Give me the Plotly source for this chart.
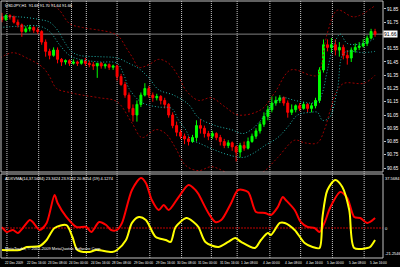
import plotly.graph_objects as go

title_text = "USDJPY,H1  91.68 91.70 91.64 91.66"
osc_title = "ADXVMA(14,37.5684) 23.3424 23.9142 20.8054 (19) 4.1274"
copyright_text = "MetaTrader, \u00a9 2001-2009 MetaQuotes Software Corp."

bar_open = [91.79, 91.77, 91.80, 91.79, 91.75, 91.73, 91.68, 91.70, 91.71, 91.69,
            91.68, 91.60, 91.53, 91.50, 91.54, 91.47, 91.45, 91.46, 91.44, 91.45,
            91.44, 91.46, 91.44, 91.43, 91.42, 91.44, 91.42, 91.43, 91.41, 91.42,
            91.34, 91.28, 91.20, 91.10, 91.05, 91.13, 91.20, 91.25, 91.20, 91.18,
            91.19, 91.16, 91.13, 91.05, 90.97, 90.92, 90.89, 90.87, 90.85, 90.88,
            90.97, 90.95, 90.91, 90.89, 90.91, 90.88, 90.85, 90.82, 90.84, 90.81,
            90.77, 90.82, 90.80, 90.85, 90.89, 90.93, 90.98, 91.04, 91.09, 91.14,
            91.16, 91.18, 91.14, 91.07, 91.09, 91.12, 91.10, 91.13, 91.10, 91.12,
            91.16, 91.39, 91.58, 91.56, 91.58, 91.54, 91.56, 91.50, 91.48, 91.54,
            91.56, 91.57, 91.59, 91.63, 91.68]
bar_high = [91.82, 91.81, 91.81, 91.80, 91.77, 91.74, 91.72, 91.73, 91.72, 91.71,
            91.69, 91.62, 91.55, 91.56, 91.56, 91.48, 91.47, 91.47, 91.47, 91.46,
            91.47, 91.48, 91.46, 91.45, 91.44, 91.45, 91.44, 91.44, 91.43, 91.43,
            91.36, 91.30, 91.22, 91.13, 91.16, 91.22, 91.29, 91.27, 91.22, 91.21,
            91.20, 91.18, 91.14, 91.07, 91.00, 90.94, 90.91, 90.89, 90.90, 91.01,
            91.02, 90.97, 90.93, 90.93, 90.92, 90.90, 90.87, 90.86, 90.85, 90.82,
            90.84, 90.85, 90.88, 90.91, 90.95, 91.00, 91.07, 91.12, 91.19, 91.19,
            91.20, 91.19, 91.16, 91.13, 91.13, 91.14, 91.15, 91.14, 91.14, 91.18,
            91.41, 91.62, 91.62, 91.63, 91.62, 91.60, 91.58, 91.54, 91.56, 91.59,
            91.60, 91.62, 91.65, 91.70, 91.70]
bar_low = [91.75, 91.76, 91.77, 91.74, 91.71, 91.64, 91.67, 91.68, 91.67, 91.66,
           91.58, 91.49, 91.47, 91.49, 91.44, 91.42, 91.43, 91.42, 91.43, 91.42,
           91.43, 91.42, 91.41, 91.39, 91.33, 91.40, 91.40, 91.39, 91.39, 91.31,
           91.27, 91.18, 91.07, 91.00, 91.00, 91.11, 91.19, 91.18, 91.15, 91.16,
           91.13, 91.10, 91.03, 90.95, 90.89, 90.87, 90.83, 90.82, 90.84, 90.85,
           90.91, 90.88, 90.86, 90.87, 90.86, 90.82, 90.80, 90.80, 90.78, 90.70,
           90.73, 90.78, 90.79, 90.84, 90.87, 90.91, 90.96, 91.01, 91.07, 91.12,
           91.14, 91.12, 91.03, 91.05, 91.07, 91.08, 91.09, 91.07, 91.07, 91.10,
           91.14, 91.37, 91.53, 91.52, 91.50, 91.49, 91.47, 91.43, 91.45, 91.52,
           91.54, 91.56, 91.57, 91.62, 91.64]
bar_close = [91.77, 91.80, 91.79, 91.75, 91.73, 91.68, 91.70, 91.71, 91.69, 91.68,
             91.60, 91.53, 91.50, 91.54, 91.47, 91.45, 91.46, 91.44, 91.45, 91.44,
             91.46, 91.44, 91.43, 91.42, 91.44, 91.42, 91.43, 91.41, 91.42, 91.34,
             91.28, 91.20, 91.10, 91.05, 91.13, 91.20, 91.25, 91.20, 91.18, 91.19,
             91.16, 91.13, 91.05, 90.97, 90.92, 90.89, 90.87, 90.85, 90.88, 90.97,
             90.95, 90.91, 90.89, 90.91, 90.88, 90.85, 90.82, 90.84, 90.81, 90.77,
             90.82, 90.80, 90.85, 90.89, 90.93, 90.98, 91.04, 91.09, 91.14, 91.16,
             91.18, 91.14, 91.07, 91.09, 91.12, 91.10, 91.13, 91.10, 91.12, 91.16,
             91.39, 91.58, 91.56, 91.58, 91.54, 91.56, 91.50, 91.48, 91.54, 91.56,
             91.57, 91.59, 91.63, 91.68, 91.66]
bars = list(range(len(bar_close)))

# outer (dark red) band
outer_t = [-0.5, 4.5, 9.5, 12, 14.5, 17, 20.25, 24.5, 27.75, 29.5, 31.25, 32.75, 34.5, 37, 39.5, 42,
           44.5, 46.25, 49.5, 52.75, 56.25, 59.5, 65.25, 68.75, 72.75, 77.75, 79.5, 82, 84.5, 88.75, 93.75]
outer_up = [92.03, 92.01, 91.96, 91.90, 91.84, 91.74, 91.71, 91.69, 91.67, 91.64, 91.56, 91.49, 91.41,
            91.43, 91.47, 91.44, 91.34, 91.24, 91.16, 91.18, 91.11, 91.05, 91.09, 91.22, 91.39, 91.35,
            91.35, 91.67, 91.84, 91.79, 91.87]
outer_lo_t = [-0.5, 2.75, 6.25, 10.25, 12, 13.75, 17, 20.25, 24.5, 29, 32.75, 35.25, 38.75, 41.25, 43.75,
              46.25, 49.5, 52.75, 56.25, 59.5, 63.25, 66.25, 69.5, 73.75, 76.25, 79.5, 81.25, 82.75, 84.5,
              86.25, 91.25, 94]
outer_lo = [91.48, 91.52, 91.48, 91.41, 91.34, 91.25, 91.22, 91.20, 91.18, 91.15, 90.99, 90.88, 90.94,
            90.91, 90.80, 90.67, 90.63, 90.66, 90.62, 90.57, 90.57, 90.63, 90.73, 90.86, 90.84, 90.84,
            90.94, 91.09, 91.24, 91.29, 91.29, 91.35]

# inner (teal) band
inner_up_t = [-0.5, 4.5, 9.5, 12, 14, 15.75, 17.5, 19.5, 24.5, 29, 32, 34.5, 37, 39.5, 43.25, 47, 49.5,
              53.75, 57.75, 60.75, 63.25, 65.75, 68.25, 70.75, 73.75, 77.75, 79.5, 80.75, 82, 83.75,
              85.25, 87, 91.25, 94]
inner_up = [91.79, 91.79, 91.77, 91.75, 91.69, 91.60, 91.53, 91.50, 91.49, 91.48, 91.44, 91.40, 91.33,
            91.24, 91.20, 91.13, 91.03, 90.97, 90.94, 90.91, 90.95, 91.03, 91.13, 91.18, 91.16, 91.14,
            91.15, 91.22, 91.39, 91.59, 91.66, 91.59, 91.59, 91.63]
inner_lo_t = [-0.5, 4.5, 9.5, 12, 14.5, 17, 19.5, 24.5, 29, 30.75, 32, 34.5, 36.25, 39.5, 42.75, 44.5,
              46.25, 47.75, 49.5, 53.25, 57, 60.75, 63.25, 66.25, 69.5, 72, 74.5, 77.75, 79.5, 80.75,
              82.5, 84.5, 86.25, 91.25, 94]
inner_lo = [91.71, 91.72, 91.72, 91.68, 91.58, 91.50, 91.47, 91.45, 91.44, 91.35, 91.25, 91.16, 91.13,
            91.11, 91.10, 91.01, 90.94, 90.86, 90.84, 90.79, 90.75, 90.73, 90.76, 90.82, 90.88, 90.96,
            91.05, 91.07, 91.07, 91.01, 91.03, 91.24, 91.52, 91.52, 91.53]

# oscillator
osc_red_t = [0, 1.25, 2.75, 4, 5.25, 7, 7.75, 9.5, 11.25, 13.25, 14, 16.25, 18.75, 21.25, 22.5, 24.5,
             26.25, 27.5, 29, 30.25, 32.75, 35, 36.25, 37.75, 39.5, 40.75, 42, 44.5, 47, 48.75, 49.5,
             52, 53.75, 55.25, 57.75, 59.5, 62, 64, 66.25, 67.75, 69.5, 70.75, 71.5, 73.75, 75.25, 77,
             78.75, 80, 81.25, 82.75, 85.25, 87, 88.75, 90.25, 92, 92.75, 94]
osc_red = [0.7, -2.8, -1.4, -3.6, 0.0, 5.7, 4.3, -1.4, 3.6, 23.4, 17.8, 7.8, 0.7, 0.7, -2.8, 4.3,
           2.1, -1.4, -1.4, 3.6, 27.0, 35.5, 32.0, 19.9, 12.8, 16.3, 12.8, 22.0, 30.5, 27.0, 24.1,
           10.7, 4.3, 5.7, 17.8, 27.0, 25.6, 11.4, 10.7, 9.2, 14.9, 22.0, 19.9, 12.8, 4.3, 0.7,
           0.0, -2.8, 3.6, 14.9, 25.6, 21.3, 7.8, 7.1, 3.6, 4.3, 7.1]
osc_yel_t = [0, 4.5, 6.25, 9.5, 11.25, 13.25, 16.25, 17.75, 19, 22, 23.75, 27.75, 29, 31.25, 32.75, 34.5,
             36.25, 38.75, 41.25, 42.5, 43.75, 46.5, 48.25, 49.5, 51.25, 54.5, 57, 58.75, 60.25, 63.75,
             65.25, 67, 67.75, 70, 71.25, 73.75, 76.25, 78.25, 80, 80.75, 82, 84, 85.75, 87.5, 88.75,
             92, 92.75, 94]
osc_yel = [-15.6, -15.6, -13.5, -12.8, -8.5, 0.0, 2.1, -6.4, -15.6, -17.0, -15.6, -17.0, -15.6, -8.5,
           3.6, 7.8, 5.7, -6.4, -8.5, -9.9, 0.7, 7.1, 4.3, 0.7, -9.9, -13.5, -9.9, -7.1, -9.9, -14.2,
           -8.5, -3.6, -5.0, 3.6, 3.6, -1.4, -10.7, -13.5, -14.2, 7.8, 27.0, 34.1, 29.1, 12.8, -14.2,
           -14.2, -13.5, -8.5]
osc_level = 0
osc_max_label = "37.5684"
osc_min_label = "-21.2546"

price_ticks = [91.85, 91.75, 91.65, 91.55, 91.45, 91.35, 91.25, 91.15, 91.05, 90.95, 90.85, 90.75, 90.65]
time_label_bars = [0.25, 5.75, 11, 16.5, 22, 27.25, 32.75, 38.25, 43.5, 49, 54.5, 59.75, 65.25, 70.75,
                   76, 81.5, 87, 92.25]
time_labels = ["22 Dec 2009", "22 Dec 16:00", "23 Dec 08:00", "24 Dec 00:00", "24 Dec 16:00",
               "28 Dec 08:00", "29 Dec 00:00", "29 Dec 16:00", "30 Dec 08:00", "31 Dec 00:00",
               "31 Dec 16:00", "1 Jan 08:00", "4 Jan 00:00", "4 Jan 08:00", "4 Jan 16:00",
               "5 Jan 00:00", "5 Jan 08:00", "5 Jan 16:00"]
grid_bars = [1.25, 9.25, 17.5, 21.25, 29, 37.25, 45.25, 52.75, 59.25, 67.5, 75.25, 83.25, 91.25]

TEAL = "#20b2aa"
MAROON = "#9a0000"
FRAME = "#c0c0c0"
WHITE = "#ffffff"
last_price = bar_close[-1]

fig = go.Figure()

for t, v in [(outer_t, outer_up), (outer_lo_t, outer_lo)]:
    fig.add_trace(go.Scatter(x=t, y=v, mode="lines", line=dict(color=MAROON, width=1, dash="2px,2px", shape="spline"),
                             hoverinfo="skip", showlegend=False))
for t, v in [(inner_up_t, inner_up), (inner_lo_t, inner_lo)]:
    fig.add_trace(go.Scatter(x=t, y=v, mode="lines", line=dict(color=TEAL, width=1, dash="1px,2px", shape="spline"),
                             hoverinfo="skip", showlegend=False))

fig.add_trace(go.Candlestick(x=bars, open=bar_open, high=bar_high, low=bar_low, close=bar_close,
                             increasing=dict(line=dict(color="#00ff00", width=1), fillcolor="#00ff00"),
                             decreasing=dict(line=dict(color="#ff0000", width=1), fillcolor="#ff0000"),
                             whiskerwidth=0, hoverinfo="skip", showlegend=False))

fig.add_trace(go.Scatter(x=osc_red_t, y=osc_red, yaxis="y2", mode="lines",
                         line=dict(color="#ff0000", width=2, shape="spline", smoothing=0.8),
                         hoverinfo="skip", showlegend=False))
fig.add_trace(go.Scatter(x=osc_yel_t, y=osc_yel, yaxis="y2", mode="lines",
                         line=dict(color="#ffff00", width=2, shape="spline", smoothing=0.8),
                         hoverinfo="skip", showlegend=False))

main_dom = [0.3346, 1.0]
osc_dom = [0.0, 0.3268]

shapes = []
for g in grid_bars:
    shapes.append(dict(type="line", xref="x", yref="paper", x0=g, x1=g, y0=0, y1=1, layer="below",
                       line=dict(color="#c8c8c8", width=1, dash="1px,1px")))
shapes.append(dict(type="line", xref="paper", yref="y", x0=0, x1=1, y0=last_price, y1=last_price,
                   layer="below", line=dict(color="#808080", width=1)))
shapes.append(dict(type="line", xref="paper", yref="y2", x0=0, x1=1, y0=osc_level, y1=osc_level,
                   layer="below", line=dict(color="#c00000", width=1, dash="2px,1px")))
for d in (main_dom, osc_dom):
    shapes.append(dict(type="rect", xref="paper", yref="paper", x0=0, x1=1, y0=d[0], y1=d[1],
                       line=dict(color=FRAME, width=1)))

tick_text = ["" if abs(p - last_price) < 0.03 else "%.2f" % p for p in price_ticks]

annotations = [
    dict(text=title_text, xref="paper", yref="paper", x=0.005, y=1, xanchor="left", yanchor="top",
         showarrow=False, font=dict(size=4, color=WHITE)),
    dict(text=osc_title, xref="paper", yref="paper", x=0.005, y=osc_dom[1], xanchor="left", yanchor="top",
         showarrow=False, font=dict(size=4, color=WHITE)),
    dict(text=copyright_text, xref="paper", yref="paper", x=0.005, y=0.02, xanchor="left", yanchor="bottom",
         showarrow=False, font=dict(size=4, color=WHITE)),
    dict(text="%.2f" % last_price, xref="paper", yref="y", x=1.0, y=last_price, xanchor="left",
         yanchor="middle", showarrow=False, bgcolor=WHITE, font=dict(size=5, color="#000000"), borderpad=0),
    dict(text=osc_max_label, xref="paper", yref="paper", x=1.0, y=osc_dom[1], xanchor="left", yanchor="top",
         showarrow=False, font=dict(size=4, color=WHITE)),
    dict(text=str(osc_level), xref="paper", yref="y2", x=1.0, y=osc_level, xanchor="left", yanchor="middle",
         showarrow=False, font=dict(size=4, color=WHITE)),
    dict(text=osc_min_label, xref="paper", yref="paper", x=1.0, y=0.0, xanchor="left", yanchor="bottom",
         showarrow=False, font=dict(size=4, color=WHITE)),
]
for b, lab in zip(time_label_bars, time_labels):
    annotations.append(dict(text=lab, xref="x", yref="paper", x=b, y=0, xanchor="left", yanchor="top",
                            showarrow=False, font=dict(size=3.2, color=WHITE), yshift=-1))

fig.update_layout(
    width=400, height=267,
    margin=dict(l=1, r=14, t=1, b=9),
    paper_bgcolor="#000000", plot_bgcolor="#000000",
    font=dict(family="Liberation Sans, Arial, sans-serif", color=WHITE),
    showlegend=False,
    shapes=shapes, annotations=annotations,
    xaxis=dict(range=[-0.25, 96], showgrid=False, zeroline=False, showticklabels=False,
               rangeslider=dict(visible=False), fixedrange=True, anchor="y2"),
    yaxis=dict(domain=main_dom, range=[90.62, 91.91], side="right", tickvals=price_ticks,
               ticktext=tick_text, ticks="outside", ticklen=2, tickcolor=FRAME,
               tickfont=dict(size=4.5, color=WHITE), showgrid=False, zeroline=False),
    yaxis2=dict(domain=osc_dom, range=[-21.3, 38.34], side="right", showticklabels=False,
                showgrid=False, zeroline=False),
)

fig.write_html("out.html")
